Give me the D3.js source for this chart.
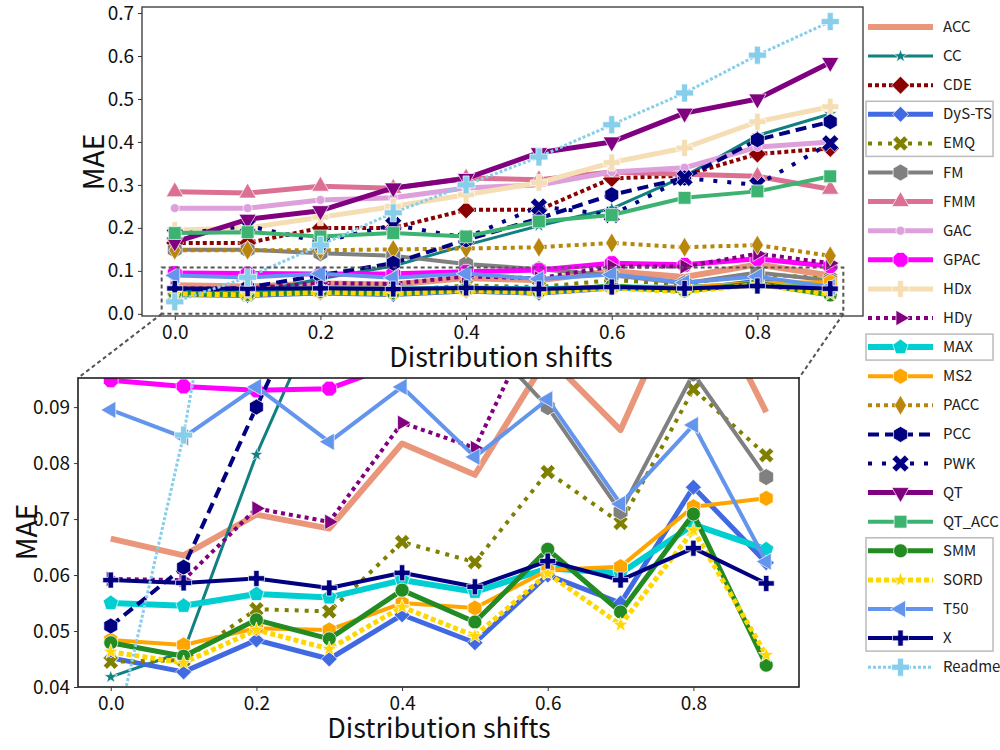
<!DOCTYPE html>
<html>
<head>
<meta charset="utf-8">
<script src="https://cdn.jsdelivr.net/npm/d3@7"></script>
<style>
  body { margin: 0; background: #fff; }
  text { font-family: "Noto Sans CJK JP", "Noto Sans", sans-serif; }
</style>
</head>
<body>
<div id="chart"></div>
<script>
// distribution shifts (x) and method names
var shifts = [0.0, 0.1, 0.2, 0.3, 0.4, 0.5, 0.6, 0.7, 0.8, 0.9];
var methods = ["ACC", "CC", "CDE", "DyS-TS", "EMQ", "FM", "FMM", "GAC", "GPAC", "HDx", "HDy",
  "MAX", "MS2", "PACC", "PCC", "PWK", "QT", "QT_ACC", "SMM", "SORD", "T50", "X", "Readme"];

// MAE per method
var acc    = [0.0665, 0.0635, 0.0708, 0.0683, 0.0835, 0.0779, 0.099, 0.0859, 0.115, 0.0891];
var cc     = [0.0418, 0.0463, 0.0815, 0.111, 0.16, 0.205, 0.245, 0.32, 0.415, 0.465];
var cde    = [0.165, 0.165, 0.20, 0.20, 0.242, 0.242, 0.315, 0.322, 0.372, 0.385];
var dys    = [0.0452, 0.0427, 0.0484, 0.045, 0.0529, 0.0479, 0.060, 0.055, 0.0757, 0.0622];
var emq    = [0.0445, 0.0448, 0.0539, 0.0535, 0.0659, 0.0623, 0.0784, 0.0693, 0.0932, 0.0814];
var fm     = [0.149, 0.149, 0.141, 0.135, 0.116, 0.104, 0.090, 0.0713, 0.096, 0.0775];
var fmm    = [0.284, 0.281, 0.297, 0.292, 0.316, 0.312, 0.33, 0.325, 0.32, 0.29];
var gac    = [0.246, 0.246, 0.265, 0.27, 0.293, 0.30, 0.33, 0.34, 0.388, 0.40];
var gpac   = [0.0948, 0.0937, 0.093, 0.0933, 0.098, 0.102, 0.118, 0.114, 0.128, 0.111];
var hdx    = [0.195, 0.20, 0.225, 0.25, 0.277, 0.305, 0.352, 0.386, 0.447, 0.482];
var hdy    = [0.0593, 0.0591, 0.0719, 0.0695, 0.0872, 0.0827, 0.11, 0.11, 0.14, 0.118];
var maxm   = [0.055, 0.0545, 0.0566, 0.056, 0.0591, 0.057, 0.0612, 0.0603, 0.069, 0.0646];
var ms2    = [0.0484, 0.0475, 0.0505, 0.0502, 0.055, 0.0541, 0.0609, 0.0615, 0.0722, 0.0737];
var pacc   = [0.148, 0.148, 0.148, 0.15, 0.152, 0.155, 0.165, 0.155, 0.16, 0.135];
var pcc    = [0.0509, 0.0614, 0.090, 0.118, 0.172, 0.222, 0.277, 0.316, 0.405, 0.447];
var pwk    = [0.184, 0.205, 0.167, 0.207, 0.177, 0.25, 0.23, 0.316, 0.30, 0.397];
var qt     = [0.167, 0.22, 0.24, 0.293, 0.315, 0.375, 0.40, 0.467, 0.50, 0.585];
var qtAcc  = [0.188, 0.19, 0.18, 0.188, 0.18, 0.215, 0.23, 0.27, 0.285, 0.32];
var smm    = [0.0479, 0.0455, 0.052, 0.0486, 0.0573, 0.0516, 0.0646, 0.0534, 0.0709, 0.0439];
var sord   = [0.0463, 0.0443, 0.0502, 0.0468, 0.0543, 0.0491, 0.0603, 0.0511, 0.068, 0.0457];
var t50    = [0.0895, 0.0846, 0.0936, 0.0838, 0.0936, 0.0811, 0.0914, 0.0727, 0.0868, 0.0624];
var xm     = [0.0591, 0.0586, 0.0594, 0.0577, 0.0604, 0.0579, 0.0625, 0.0591, 0.0648, 0.0585];
var readme = [0.028, 0.085, 0.16, 0.235, 0.30, 0.365, 0.44, 0.514, 0.602, 0.68];

// tick labels
var xTicks = [0.0, 0.2, 0.4, 0.6, 0.8];
var yTicksTop = [0.0, 0.1, 0.2, 0.3, 0.4, 0.5, 0.6, 0.7];
var yTicksZoom = [0.04, 0.05, 0.06, 0.07, 0.08, 0.09];

var values = {
  "ACC": acc, "CC": cc, "CDE": cde, "DyS-TS": dys, "EMQ": emq, "FM": fm, "FMM": fmm,
  "GAC": gac, "GPAC": gpac, "HDx": hdx, "HDy": hdy, "MAX": maxm, "MS2": ms2, "PACC": pacc,
  "PCC": pcc, "PWK": pwk, "QT": qt, "QT_ACC": qtAcc, "SMM": smm, "SORD": sord, "T50": t50,
  "X": xm, "Readme": readme
};

// line / marker styles
var styles = {
  "ACC":    {color: "#E9967A", w: 6, marker: null},
  "CC":     {color: "#118080", w: 3, marker: "star", r: 7},
  "CDE":    {color: "#8B0000", w: 4, dash: "4,3", marker: "diamond", r: 9},
  "DyS-TS": {color: "#4169E1", w: 5, marker: "diamond", r: 8},
  "EMQ":    {color: "#808000", w: 4, dash: "4,6", marker: "x", r: 8},
  "FM":     {color: "#808080", w: 4, marker: "hexagon", r: 8.5},
  "FMM":    {color: "#DB7093", w: 5, marker: "tri_up", r: 10},
  "GAC":    {color: "#DDA0DD", w: 5, marker: "point", r: 4.5},
  "GPAC":   {color: "#FF00FF", w: 5, marker: "octagon", r: 8},
  "HDx":    {color: "#F5DEB3", w: 5, marker: "plus", r: 8.5},
  "HDy":    {color: "#800080", w: 4, dash: "4,4", marker: "tri_right", r: 9},
  "MAX":    {color: "#00CED1", w: 6, marker: "pentagon", r: 8},
  "MS2":    {color: "#FFA500", w: 4, marker: "hexagon", r: 8},
  "PACC":   {color: "#B8860B", w: 4, dash: "4,4", marker: "thin_diamond", r: 10},
  "PCC":    {color: "#000080", w: 4, dash: "11,6", marker: "hexagon", r: 8},
  "PWK":    {color: "#000080", w: 4, dash: "4,10", marker: "x", r: 9},
  "QT":     {color: "#800080", w: 5, marker: "tri_down", r: 10},
  "QT_ACC": {color: "#3CB371", w: 4, marker: "square", r: 8},
  "SMM":    {color: "#228B22", w: 5, marker: "circle", r: 7},
  "SORD":   {color: "#FFD700", w: 5, dash: "5,3", marker: "star", r: 8},
  "T50":    {color: "#6495ED", w: 4, marker: "tri_left", r: 10},
  "X":      {color: "#000080", w: 4, marker: "plus", r: 8},
  "Readme": {color: "#87CEEB", w: 3, dash: "3,2", marker: "plus", r: 9}
};

// marker outlines like matplotlib's filled markers
function markerPath(type, r) {
  function ring(n, rot, rad) {
    return d3.range(n).map(function(i) {
      var a = rot + i * 2 * Math.PI / n;
      return [rad * Math.sin(a), -rad * Math.cos(a)];
    });
  }
  function poly(p) { return "M" + p.map(function(q) { return q[0].toFixed(2) + "," + q[1].toFixed(2); }).join("L") + "Z"; }
  function rot(p, a) {
    return p.map(function(q) { return [q[0] * Math.cos(a) - q[1] * Math.sin(a), q[0] * Math.sin(a) + q[1] * Math.cos(a)]; });
  }
  var t = r / 3;
  var plus = [[-t, -r], [t, -r], [t, -t], [r, -t], [r, t], [t, t], [t, r], [-t, r], [-t, t], [-r, t], [-r, -t], [-t, -t]];
  switch (type) {
    case "circle":
    case "point":
      return "M" + r + ",0A" + r + "," + r + " 0 1,1 " + (-r) + ",0A" + r + "," + r + " 0 1,1 " + r + ",0Z";
    case "square": var s = r * 0.8; return poly([[-s, -s], [s, -s], [s, s], [-s, s]]);
    case "diamond": return poly(ring(4, 0, r));
    case "thin_diamond": return poly([[0, -r], [0.6 * r, 0], [0, r], [-0.6 * r, 0]]);
    case "tri_up": return poly(ring(3, 0, r));
    case "tri_down": return poly(ring(3, Math.PI, r));
    case "tri_right": return poly(ring(3, Math.PI / 2, r));
    case "tri_left": return poly(ring(3, -Math.PI / 2, r));
    case "hexagon": return poly(ring(6, 0, r));
    case "octagon": return poly(ring(8, Math.PI / 8, r));
    case "pentagon": return poly(ring(5, 0, r));
    case "star":
      var pts = d3.range(10).map(function(i) {
        var a = i * Math.PI / 5, rr = i % 2 ? r * 0.4 : r;
        return [rr * Math.sin(a), -rr * Math.cos(a)];
      });
      return poly(pts);
    case "plus": return poly(plus);
    case "x": return poly(rot(plus, Math.PI / 4));
  }
  return "";
}

var W = 1000, H = 750;
var svg = d3.select("#chart").append("svg").attr("width", W).attr("height", H);

// panel geometry
var pTop = {left: 142, right: 863, top: 7, bottom: 316};
var pZoom = {left: 78, right: 799, top: 378, bottom: 687};

var xTop = d3.scaleLinear().domain([-0.045, 0.945]).range([pTop.left, pTop.right]);
var yTop = d3.scaleLinear().domain([-0.005, 0.714]).range([pTop.bottom, pTop.top]);
var xZoom = d3.scaleLinear().domain([-0.045, 0.945]).range([pZoom.left, pZoom.right]);
var yZoom = d3.scaleLinear().domain([0.04, 0.0952]).range([pZoom.bottom, pZoom.top]);

var defs = svg.append("defs");
function addClip(id, p) {
  defs.append("clipPath").attr("id", id).append("rect")
    .attr("x", p.left).attr("y", p.top)
    .attr("width", p.right - p.left).attr("height", p.bottom - p.top);
}
addClip("clipTop", pTop);
addClip("clipZoom", pZoom);

function drawSeries(g, x, y) {
  methods.forEach(function(name) {
    var st = styles[name], vals = values[name];
    var line = d3.line()
      .x(function(d, i) { return x(shifts[i]); })
      .y(function(d) { return y(d); });
    g.append("path")
      .datum(vals)
      .attr("d", line)
      .attr("fill", "none")
      .attr("stroke", st.color)
      .attr("stroke-width", st.w)
      .attr("stroke-dasharray", st.dash || null)
      .attr("stroke-linejoin", "round");
    if (st.marker) {
      g.append("g").selectAll("path")
        .data(vals)
        .enter()
        .append("path")
          .attr("d", markerPath(st.marker, st.r))
          .attr("transform", function(d, i) { return "translate(" + x(shifts[i]) + "," + y(d) + ")"; })
          .attr("fill", st.color)
          .attr("stroke", "#fff")
          .attr("stroke-width", 0.7);
    }
  });
}

function drawAxes(p, x, y, yTicks, yFmt) {
  var ax = svg.append("g")
    .attr("transform", "translate(0," + p.bottom + ")")
    .call(d3.axisBottom(x).tickValues(xTicks).tickFormat(d3.format(".1f")).tickSize(4));
  ax.select(".domain").remove();
  ax.selectAll("text").attr("dy", null).attr("y", 23)
    .style("font-size", "19px").style("fill", "#111");
  ax.selectAll("line").attr("stroke", "#333");

  var ay = svg.append("g")
    .attr("transform", "translate(" + p.left + ",0)")
    .call(d3.axisLeft(y).tickValues(yTicks).tickFormat(d3.format(yFmt)).tickSize(4));
  ay.select(".domain").remove();
  ay.selectAll("text").attr("x", -8).style("font-size", "19px").style("fill", "#111");
  ay.selectAll("line").attr("stroke", "#333");
}

// top panel
var gTop = svg.append("g").attr("clip-path", "url(#clipTop)");
drawSeries(gTop, xTop, yTop);

// dashed box marking the zoomed area
svg.append("rect")
  .attr("x", xTop(-0.018)).attr("y", yTop(0.108))
  .attr("width", xTop(0.918) - xTop(-0.018))
  .attr("height", yTop(0.0) - yTop(0.108))
  .attr("fill", "none").attr("stroke", "#555")
  .attr("stroke-width", 2).attr("stroke-dasharray", "4,3");

svg.append("rect")
  .attr("x", pTop.left).attr("y", pTop.top)
  .attr("width", pTop.right - pTop.left).attr("height", pTop.bottom - pTop.top)
  .attr("fill", "none").attr("stroke", "#333").attr("stroke-width", 1.3);
drawAxes(pTop, xTop, yTop, yTicksTop, ".1f");

// connectors between box and inset
svg.append("line")
  .attr("x1", xTop(-0.018)).attr("y1", yTop(0.0))
  .attr("x2", pZoom.left).attr("y2", pZoom.top)
  .attr("stroke", "#555").attr("stroke-width", 2).attr("stroke-dasharray", "4,3");
svg.append("line")
  .attr("x1", xTop(0.918)).attr("y1", yTop(0.0))
  .attr("x2", pZoom.right).attr("y2", pZoom.top)
  .attr("stroke", "#555").attr("stroke-width", 2).attr("stroke-dasharray", "4,3");

// zoomed panel
svg.append("rect")
  .attr("x", pZoom.left).attr("y", pZoom.top)
  .attr("width", pZoom.right - pZoom.left).attr("height", pZoom.bottom - pZoom.top)
  .attr("fill", "#fff");
var gZoom = svg.append("g").attr("clip-path", "url(#clipZoom)");
drawSeries(gZoom, xZoom, yZoom);
svg.append("rect")
  .attr("x", pZoom.left).attr("y", pZoom.top)
  .attr("width", pZoom.right - pZoom.left).attr("height", pZoom.bottom - pZoom.top)
  .attr("fill", "none").attr("stroke", "#111").attr("stroke-width", 1.5);
drawAxes(pZoom, xZoom, yZoom, yTicksZoom, ".2f");

// axis titles
svg.append("text")
  .attr("transform", "translate(104,162)rotate(-90)")
  .attr("text-anchor", "middle")
  .style("font-size", "28px").style("fill", "#111")
  .text("MAE");
svg.append("text")
  .attr("x", 501).attr("y", 367)
  .attr("text-anchor", "middle")
  .style("font-size", "27px").style("fill", "#111")
  .text("Distribution shifts");
svg.append("text")
  .attr("transform", "translate(37,532)rotate(-90)")
  .attr("text-anchor", "middle")
  .style("font-size", "28px").style("fill", "#111")
  .text("MAE");
svg.append("text")
  .attr("x", 439).attr("y", 738)
  .attr("text-anchor", "middle")
  .style("font-size", "27px").style("fill", "#111")
  .text("Distribution shifts");

// legend
var rowY = function(i) { return 27 + i * 29.1; };
var groups = [[3, 4], [11, 11], [18, 21]];
groups.forEach(function(gr) {
  svg.append("rect")
    .attr("x", 866).attr("y", rowY(gr[0]) - 13)
    .attr("width", 127).attr("height", rowY(gr[1]) - rowY(gr[0]) + 26)
    .attr("fill", "none").attr("stroke", "#bbb").attr("stroke-width", 1.5);
});

var legend = svg.append("g");
methods.forEach(function(name, i) {
  var st = styles[name], yy = rowY(i);
  legend.append("line")
    .attr("x1", 868).attr("x2", 933).attr("y1", yy).attr("y2", yy)
    .attr("stroke", st.color).attr("stroke-width", st.w)
    .attr("stroke-dasharray", st.dash || null);
  if (st.marker) {
    legend.append("path")
      .attr("d", markerPath(st.marker, st.r))
      .attr("transform", "translate(900.5," + yy + ")")
      .attr("fill", st.color).attr("stroke", "#fff").attr("stroke-width", 0.7);
  }
  legend.append("text")
    .attr("x", 943).attr("y", yy + 5)
    .style("font-size", "15px").style("fill", "#222")
    .text(name);
});
</script>
</body>
</html>
